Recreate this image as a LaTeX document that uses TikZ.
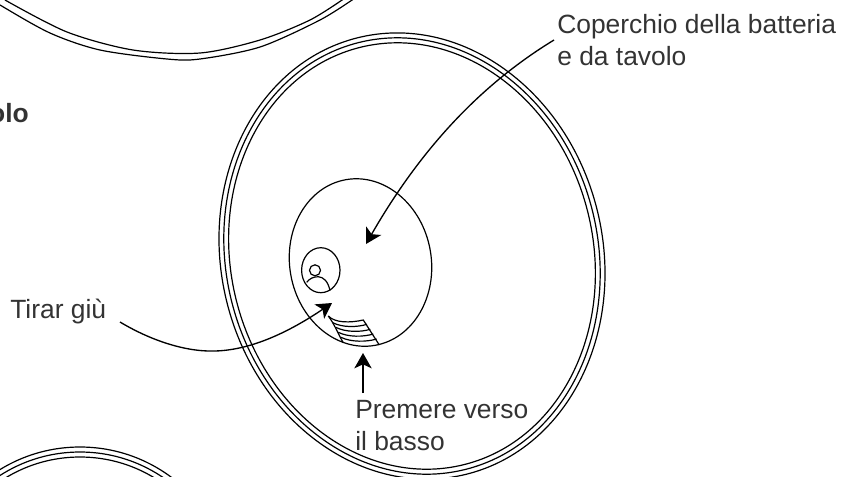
\documentclass[tikz,border=0pt]{standalone}
\usepackage{fontspec}
\setmainfont{Liberation Sans}
\usetikzlibrary{arrows.meta}
\definecolor{txt}{HTML}{333333}
\tikzset{
 px/.style={x=0.75pt,y=-0.75pt},
 ln/.style={draw=black,line width=0.9pt},
 lbl/.style={text=txt,font=\fontsize{19.8pt}{24pt}\selectfont,inner sep=0pt,anchor=base west,align=left},
 arr/.style={ln,line width=1pt,-{Stealth[length=11.5pt,width=13pt,inset=3pt]}},
}
\begin{document}
\begin{tikzpicture}[px]
\useasboundingbox (0,0) rectangle (843,476);
\begin{scope}
\clip (0,0) rectangle (843,476);
% large disc, three rings
\foreach \ra/\rb in {190.8/224.9,186/220,181.2/215}{
 \draw[ln,rotate around={14:(412,256)}] (412,256) ellipse ({\ra} and {\rb});
}
% top disc rest
\draw[ln] plot[smooth] coordinates {(5,0) (67,32) (133,50) (200,53) (260,40) (310,20) (345,-2)};
\draw[ln] plot[smooth] coordinates {(-15,-5) (0,5) (50,33) (100,50) (167,59) (200,59) (260,47) (320,20) (355,-2)};
% bottom disc rest
\draw[ln] (80,600) circle (153);
\draw[ln] (80,600) circle (148);
\draw[ln] (80,600) circle (143);
\end{scope}
% battery cover
\draw[ln,rotate around={10:(360.5,262.5)}] (360.5,262.5) ellipse (70.8 and 84.1);
% lock
\draw[ln] (320.8,270.2) ellipse (19.2 and 22.5);
\draw[ln] (315,270.3) circle (5.5);
\draw[ln] (306.7,282.3) .. controls (311,276) and (326,271) .. (330,290.7);
% ribbed grip
\draw[ln] (328.3,316) .. controls (335,323) and (350,323) .. (363.3,320) -- (379.3,345);
\draw[ln] (328.3,316) .. controls (335,325) and (338,334) .. (343.3,342.7);
\foreach \ya/\xa/\yb/\xb in {322.7/332.7/324.3/367,327.3/335.7/329.3/370.3,332.3/338.3/334/373.3,337.3/341/339/376.7}{
 \draw[ln] (\xa,\ya) .. controls (\xa+10,\ya+5) and (\xb-10,\yb+3) .. (\xb,\yb);
}
% labels
\node[lbl] (cover1) at (557,33) {Coperchio della batteria};
\node[lbl] (cover2) at (557,65.5) {e da tavolo};
\node[lbl] (pull) at (10,318) {Tirar giù};
\node[lbl] (press1) at (355,418) {Premere verso};
\node[lbl] (press2) at (355,450) {il basso};
\node[lbl,font=\fontsize{19.8pt}{24pt}\selectfont\bfseries,anchor=base east] (bold) at (29,122) {olo};
% connectors
\coordinate (coverfrom) at (554,40);
\coordinate (covertip) at (366,244);
\coordinate (pullfrom) at (120,322);
\coordinate (pullmid) at (215,351);
\coordinate (pulltip) at (332,303);
\coordinate (pressfrom) at (363,393);
\coordinate (presstip) at (363,353);
\draw[arr] (coverfrom) .. controls (480,85) and (420,150) .. (covertip);
\draw[arr] (pullfrom) .. controls (150,340) and (185,352) .. (pullmid) .. controls (255,350) and (295,328) .. (pulltip);
\draw[arr] (pressfrom) -- (presstip);
\end{tikzpicture}
\end{document}
